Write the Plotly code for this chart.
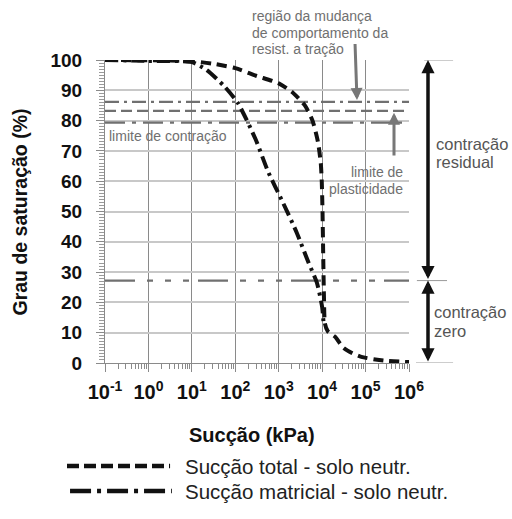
import plotly.graph_objects as go

# ---------------- data ----------------
x_tick_vals = [0.1, 1, 10, 100, 1000, 10000, 100000, 1000000]
x_tick_text = ["10<sup>-1</sup>", "10<sup>0</sup>", "10<sup>1</sup>", "10<sup>2</sup>",
               "10<sup>3</sup>", "10<sup>4</sup>", "10<sup>5</sup>", "10<sup>6</sup>"]
y_tick_vals = [0, 10, 20, 30, 40, 50, 60, 70, 80, 90, 100]

# Sucção total - solo neutr. (dashed)
suction_total = [0.1, 1, 10, 30, 100, 300, 1000, 2000, 4000, 6000, 8000, 9300, 9800,
                 10200, 10600, 11000, 11600, 13500, 20000, 31000, 50000, 80000,
                 260000, 1000000]
sat_total = [100, 99.9, 99.6, 98.8, 97.3, 94.8, 92.3, 89.5, 85, 80, 73, 66, 60,
             50, 35, 22, 13, 10.5, 8.6, 5, 3.2, 2, 0.8, 0.3]

# Sucção matricial - solo neutr. (dash-dot)
suction_matric = [0.1, 1, 10, 22, 57, 115, 290, 575, 1200, 2600, 4800, 7600, 10000, 10800]
sat_matric = [100, 99.7, 99.3, 96.7, 91.2, 85.8, 74, 63, 53.5, 43, 33.3, 26.4, 18.5, 13]

# reference levels (%)
lvl_tensile = 86.2       # região da mudança de comportamento da resist. a tração
lvl_plastic = 83.2       # limite de plasticidade
lvl_shrink = 79.3        # limite de contração
lvl_zero = 27.2          # fronteira contração residual / zero
x_span = [0.1, 1000000]

FONT = "Liberation Sans, Arial, sans-serif"
GRAY = "#707070"

fig = go.Figure()

# reference lines
fig.add_trace(go.Scatter(x=x_span, y=[lvl_tensile] * 2, mode="lines",
                         line=dict(color=GRAY, width=2.2, dash="14px,5px,3px,5px"),
                         showlegend=False, hoverinfo="skip"))
fig.add_trace(go.Scatter(x=x_span, y=[lvl_plastic] * 2, mode="lines",
                         line=dict(color=GRAY, width=2.2, dash="11px,5px"),
                         showlegend=False, hoverinfo="skip"))
fig.add_trace(go.Scatter(x=x_span, y=[lvl_shrink] * 2, mode="lines",
                         line=dict(color=GRAY, width=2.2, dash="20px,7px,4px,7px"),
                         showlegend=False, hoverinfo="skip"))
fig.add_trace(go.Scatter(x=x_span, y=[lvl_zero] * 2, mode="lines",
                         line=dict(color=GRAY, width=2.2,
                                   dash="30px,12px,6px,12px,6px,12px,6px,9px"),
                         showlegend=False, hoverinfo="skip"))

# curves
fig.add_trace(go.Scatter(x=suction_total, y=sat_total, mode="lines",
                         name="Sucção total - solo neutr.",
                         line=dict(color="#111111", width=4, dash="10px,6px", shape="spline",
                                   smoothing=0.6),
                         cliponaxis=False, showlegend=False))
fig.add_trace(go.Scatter(x=suction_matric, y=sat_matric, mode="lines",
                         name="Sucção matricial - solo neutr.",
                         line=dict(color="#111111", width=4, dash="13px,5px,3px,5px",
                                   shape="spline", smoothing=0.6),
                         cliponaxis=False, showlegend=False))

# ---------------- shapes ----------------
shapes = []
# extension lines to the right (thin gray)
for yv, x0, x1 in [(100, 1.05, 1.145), (lvl_zero, 1.026, 1.125), (0, 1.023, 1.145)]:
    shapes.append(dict(type="line", xref="paper", yref="y", x0=x0, x1=x1, y0=yv, y1=yv,
                       line=dict(color="#9a9a9a", width=1)))
# legend samples
shapes.append(dict(type="line", xref="paper", yref="paper", x0=-0.125, x1=0.214,
                   y0=-0.34, y1=-0.34,
                   line=dict(color="#111111", width=4.5, dash="12px,5px")))
shapes.append(dict(type="line", xref="paper", yref="paper", x0=-0.115, x1=0.22,
                   y0=-0.4224, y1=-0.4224,
                   line=dict(color="#111111", width=4.5, dash="21px,6px,4px,6px")))

# ---------------- annotations ----------------
ann = []
def txt(t, x, y, size=14, color=GRAY, xanchor="left", bold=False, yref="paper"):
    ann.append(dict(text=("<b>%s</b>" % t) if bold else t, x=x, y=y, xref="paper",
                    yref=yref, showarrow=False, xanchor=xanchor, yanchor="middle",
                    font=dict(family=FONT, size=size, color=color)))

def py(px):  # pixel row -> paper y
    return (363 - px) / 303.0

def pxp(px):  # pixel col -> paper x
    return (px - 105) / 304.0

txt("região da mudança", pxp(250), py(16))
txt("de comportamento da", pxp(250), py(33))
txt("resist. a tração", pxp(250), py(49))
txt("limite de contração", pxp(107), py(136))
txt("limite de", pxp(405), py(172), xanchor="right")
txt("plasticidade", pxp(405), py(189), xanchor="right")
txt("contração", pxp(434), py(144), size=16.5, color="#555555")
txt("residual", pxp(434), py(162), size=16.5, color="#555555")
txt("contração", pxp(432), py(312), size=16.5, color="#555555")
txt("zero", pxp(432), py(331), size=16.5, color="#555555")

# titles
txt("Sucção (kPa)", pxp(251.5), py(435), size=20, color="#111111", xanchor="center", bold=True)
ann.append(dict(text="<b>Grau de saturação (%)</b>", x=pxp(20), y=py(212.5), xref="paper",
                yref="paper", showarrow=False, textangle=-90, xanchor="center",
                yanchor="middle", font=dict(family=FONT, size=19.5, color="#111111")))

# legend text
txt("Sucção total - solo neutr.", pxp(183), py(466), size=20.5, color="#222222")
txt("Sucção matricial - solo neutr.", pxp(183), py(491), size=20.5, color="#222222")

# double arrows on right
for y_top, y_bot in [(100, lvl_zero), (lvl_zero, 0)]:
    ann.append(dict(text="", x=pxp(428), y=y_top, xref="paper", yref="y",
                    ax=0, ay=y_bot, axref="pixel", ayref="y", showarrow=True,
                    arrowhead=2, startarrowhead=2, arrowside="end+start",
                    arrowwidth=3.5, arrowsize=0.75, startarrowsize=0.75,
                    arrowcolor="#111111"))

# gray pointer arrows
ann.append(dict(text="", x=pxp(357), y=lvl_tensile + 0.6, xref="paper", yref="y",
                ax=-2, ay=105.8, axref="pixel", ayref="y", showarrow=True,
                arrowhead=2, arrowwidth=3, arrowsize=0.8, arrowcolor="#777777"))
ann.append(dict(text="", x=pxp(394), y=lvl_plastic - 0.6, xref="paper", yref="y",
                ax=0, ay=68, axref="pixel", ayref="y", showarrow=True,
                arrowhead=2, arrowwidth=3, arrowsize=0.8, arrowcolor="#777777"))

fig.update_layout(
    width=512, height=519,
    margin=dict(l=105, r=103, t=60, b=156),
    paper_bgcolor="white", plot_bgcolor="white",
    font=dict(family=FONT, color="#111111"),
    shapes=shapes, annotations=ann, showlegend=False,
)
fig.update_xaxes(type="log", range=[-1, 6], tickvals=x_tick_vals, ticktext=x_tick_text,
                 tickfont=dict(family=FONT, size=20, color="#111111", weight="bold"),
                 showgrid=True, gridcolor="#8a8a8a", gridwidth=1,
                 showline=True, linecolor="#8a8a8a", linewidth=1,
                 ticks="outside", ticklen=8, tickcolor="#8a8a8a", ticklabelstandoff=3,
                 minor=dict(ticks="outside", ticklen=5, tickcolor="#8a8a8a", dtick="D1",
                            showgrid=False),
                 zeroline=False, fixedrange=True)
fig.update_yaxes(range=[0, 100], tickvals=y_tick_vals,
                 tickfont=dict(family=FONT, size=19, color="#111111", weight="bold"),
                 showgrid=True, gridcolor="#c8c8c8", gridwidth=1.5,
                 showline=True, linecolor="#8a8a8a", linewidth=1,
                 ticks="outside", ticklen=8, tickcolor="#8a8a8a", ticklabelstandoff=10,
                 minor=dict(ticks="outside", ticklen=5, tickcolor="#9a9a9a", dtick=1,
                            showgrid=False),
                 zeroline=False, fixedrange=True)

fig.write_html("out.html", config={"displayModeBar": False},
               post_script="document.body.style.margin='0';document.body.style.padding='0';")
